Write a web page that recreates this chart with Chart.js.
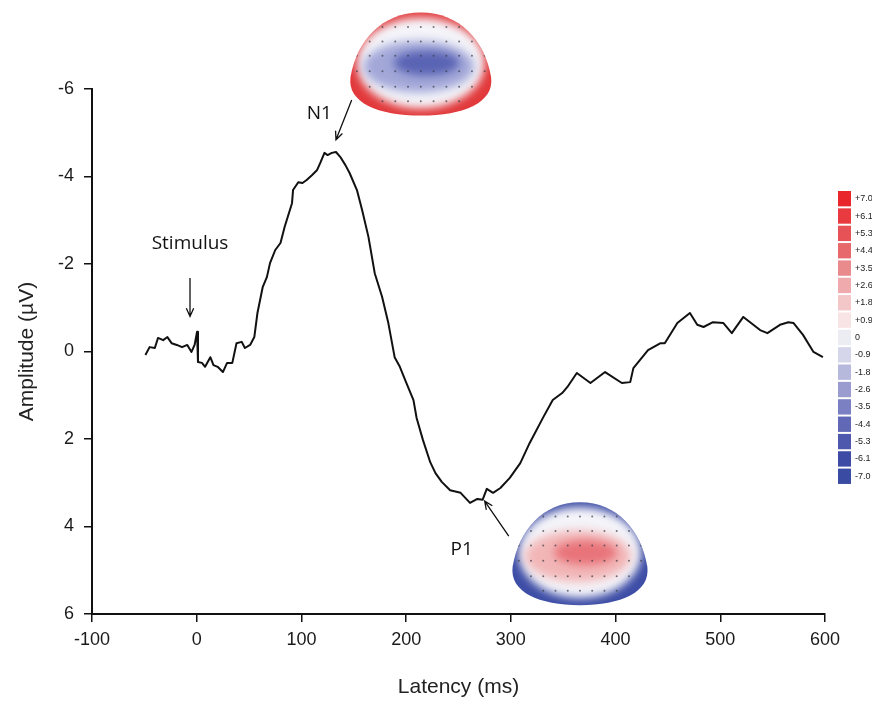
<!DOCTYPE html>
<html>
<head>
<meta charset="utf-8">
<script src="https://cdn.jsdelivr.net/npm/chart.js@4.4.1/dist/chart.umd.min.js"></script>
<style>
  html, body { margin: 0; padding: 0; background: #fff; }
  canvas { display: block; }
</style>
</head>
<body>
<canvas id="erp" width="872" height="702"></canvas>
<script>
// ─── Data ────────────────────────────────────────────
var latency = [
  -49, -45, -40, -37, -32, -28, -24, -19, -14, -9, -5, -2, 0.3, 1.2, 5, 8, 13, 16, 20, 25, 29, 34, 38, 43, 46, 51, 55,
  58, 63, 67, 70, 75, 80, 84, 91, 92, 97, 101, 105, 110, 115, 118, 122, 125, 129, 133, 137, 142, 146,
  153, 158, 164, 170, 177, 183, 189, 194, 199, 207, 210, 216, 223, 228, 234, 242, 252, 261, 268, 273,
  277, 283, 290, 299, 309, 318, 331, 340, 349, 354, 363, 376, 390, 406, 414, 417, 431, 443, 447,
  459, 471, 478, 484, 493, 503, 511, 522, 538, 545, 557, 565, 570, 579, 589, 598
];
var amplitude = [
  0.08, -0.10, -0.08, -0.31, -0.26, -0.33, -0.19, -0.15, -0.10, -0.15, 0.01, -0.15, -0.45, 0.24, 0.26, 0.35, 0.13, 0.31, 0.35, 0.47, 0.26, 0.26, -0.19, -0.22, -0.08, -0.15, -0.33,
  -0.88, -1.47, -1.70, -2.02, -2.32, -2.48, -2.85, -3.39, -3.69, -3.87, -3.85, -3.92, -4.03, -4.15, -4.31, -4.54, -4.49, -4.54, -4.56, -4.45, -4.26, -4.08,
  -3.69, -3.23, -2.62, -1.79, -1.25, -0.65, 0.13, 0.35, 0.65, 1.11, 1.52, 2.02, 2.53, 2.78, 2.98, 3.17, 3.23, 3.46, 3.37, 3.39,
  3.14, 3.23, 3.12, 2.89, 2.55, 2.09, 1.50, 1.11, 0.95, 0.81, 0.49, 0.72, 0.47, 0.72, 0.70, 0.38, -0.03, -0.19, -0.19,
  -0.65, -0.88, -0.61, -0.56, -0.67, -0.65, -0.42, -0.79, -0.49, -0.42, -0.61, -0.67, -0.65, -0.38, 0.01, 0.13
];
var xTicks = [-100, 0, 100, 200, 300, 400, 500, 600];
var yTicks = [-6, -4, -2, 0, 2, 4, 6];

// colour scale of the scalp maps
var mapLabels = ['+7.0', '+6.1', '+5.3', '+4.4', '+3.5', '+2.6', '+1.8', '+0.9', '0',
                 '-0.9', '-1.8', '-2.6', '-3.5', '-4.4', '-5.3', '-6.1', '-7.0'];
var mapColors = ['#e8262b', '#e93b3f', '#e75256', '#e7696c', '#e98a8d', '#eeaaac', '#f3c6c7', '#f9e4e5', '#ececf3',
                 '#d5d6ea', '#b6b8dc', '#9a9ccf', '#7b80c2', '#6168b6', '#4e58ad', '#3e4ca6', '#3a4ba3'];

// annotations, in (ms, µV)
var notes = [
  { text: 'Stimulus', x: -6.4, y: -2.46 },
  { text: 'N1', x: 117, y: -5.43 },
  { text: 'P1', x: 253, y: 4.52 }
];
var arrows = [
  { from: [-6.4, -1.68], to: [-6.4, -0.80] },
  { from: [148, -5.75], to: [133, -4.84] },
  { from: [298, 4.22], to: [275, 3.42] }
];

var points = latency.map(function(t, i) { return { x: t, y: amplitude[i] }; });

// ─── Drawing helpers ─────────────────────────────────
function headPath(ctx, cx, cy, w, h) {
  var a = w / 2, b = h / 2;
  ctx.beginPath();
  ctx.moveTo(cx, cy - b);
  ctx.bezierCurveTo(cx + 0.55 * a, cy - b, cx + 0.9 * a, cy - 0.45 * b, cx + 0.99 * a, cy + 0.25 * b);
  ctx.bezierCurveTo(cx + 1.04 * a, cy + 0.75 * b, cx + 0.6 * a, cy + b, cx, cy + b);
  ctx.bezierCurveTo(cx - 0.6 * a, cy + b, cx - 1.04 * a, cy + 0.75 * b, cx - 0.99 * a, cy + 0.25 * b);
  ctx.bezierCurveTo(cx - 0.9 * a, cy - 0.45 * b, cx - 0.55 * a, cy - b, cx, cy - b);
  ctx.closePath();
}

function blob(ctx, x, y, rx, ry, color) {
  ctx.fillStyle = color;
  ctx.beginPath();
  ctx.ellipse(x, y, rx, ry, 0, 0, Math.PI * 2);
  ctx.fill();
}

function drawHead(ctx, cx, cy, w, h, rim, mid, core) {
  var a = w / 2, b = h / 2;
  ctx.save();
  headPath(ctx, cx, cy, w, h);
  ctx.clip();
  ctx.fillStyle = rim;
  ctx.fillRect(cx - a - 5, cy - b - 5, w + 10, h + 10);
  ctx.filter = 'blur(4px)';
  blob(ctx, cx, cy - 0.02 * b, 0.9 * a, 0.88 * b, '#f4f4f9');
  ctx.filter = 'blur(5px)';
  blob(ctx, cx - 0.03 * a, cy + 0.05 * b, 0.78 * a, 0.5 * b, mid);
  ctx.filter = 'blur(4px)';
  blob(ctx, cx + 0.08 * a, cy - 0.02 * b, 0.46 * a, 0.24 * b, core);
  ctx.filter = 'none';
  // electrode dots
  ctx.fillStyle = 'rgba(60,60,70,0.7)';
  [-0.72, -0.44, -0.16, 0.14, 0.44, 0.72].forEach(function(ry) {
    for (var rx = -0.9; rx <= 0.91; rx += 0.18) {
      if (rx * rx / 0.88 + ry * ry / 0.85 < 1) {
        ctx.beginPath();
        ctx.arc(cx + rx * a, cy + ry * b, 1, 0, Math.PI * 2);
        ctx.fill();
      }
    }
  });
  ctx.restore();
}

function drawArrow(ctx, x1, y1, x2, y2) {
  var ang = Math.atan2(y2 - y1, x2 - x1), L = 9, s = 0.42;
  ctx.beginPath();
  ctx.moveTo(x1, y1);
  ctx.lineTo(x2, y2);
  ctx.moveTo(x2 - L * Math.cos(ang - s), y2 - L * Math.sin(ang - s));
  ctx.lineTo(x2, y2);
  ctx.lineTo(x2 - L * Math.cos(ang + s), y2 - L * Math.sin(ang + s));
  ctx.stroke();
}

var overlay = {
  id: 'overlay',
  afterDraw: function(chart) {
    var ctx = chart.ctx, xs = chart.scales.x, ys = chart.scales.y;
    var px = function(v) { return xs.getPixelForValue(v); };
    var py = function(v) { return ys.getPixelForValue(v); };

    // scalp maps
    drawHead(ctx, px(214), py(-6.57), 142, 103, '#e23a3c', '#a2a7d8', '#5a64b4');
    drawHead(ctx, px(366), py(4.62), 136, 103, '#3e4ea6', '#f2b6b7', '#e8747a');

    // labels + arrows
    ctx.save();
    ctx.fillStyle = '#111';
    ctx.font = '19px "Open Sans", Lato, sans-serif';
    ctx.textAlign = 'center';
    ctx.textBaseline = 'middle';
    notes.forEach(function(n) { ctx.fillText(n.text, px(n.x), py(n.y)); });
    ctx.strokeStyle = '#111';
    ctx.lineWidth = 1.3;
    arrows.forEach(function(a) { drawArrow(ctx, px(a.from[0]), py(a.from[1]), px(a.to[0]), py(a.to[1])); });

    // colour bar
    var left = chart.chartArea.right + 13, top = 190, step = 17.35;
    ctx.font = '9px "Liberation Sans", Arial, sans-serif';
    ctx.textAlign = 'left';
    mapLabels.forEach(function(lab, i) {
      ctx.fillStyle = mapColors[i];
      ctx.fillRect(left, top + i * step + 1, 13, step - 2);
      ctx.fillStyle = '#222';
      ctx.fillText(lab, left + 17, top + i * step + step / 2);
    });
    ctx.restore();
  }
};

// ─── Chart ───────────────────────────────────────────
var axisFont = { family: '"Liberation Sans", Arial, sans-serif', size: 18 };
var titleFont = { family: '"Liberation Sans", Arial, sans-serif', size: 21, lineHeight: 1.2 };

new Chart(document.getElementById('erp').getContext('2d'), {
  type: 'line',
  data: {
    datasets: [{
      data: points,
      borderColor: '#111', borderWidth: 2, borderJoinStyle: 'round',
      pointRadius: 0, tension: 0, fill: false
    }]
  },
  options: {
    responsive: false, animation: false, devicePixelRatio: 1,
    layout: { padding: { top: 89, right: 47, left: 0, bottom: 0 } },
    plugins: { legend: { display: false }, tooltip: { enabled: false } },
    scales: {
      x: {
        type: 'linear', min: -100, max: 600,
        afterBuildTicks: function(s) { s.ticks = xTicks.map(function(v) { return { value: v }; }); },
        afterFit: function(s) { s.height = 88; },
        grid: { drawOnChartArea: false, drawTicks: true, tickLength: 8, color: '#111', lineWidth: 1.5 },
        border: { display: true, color: '#111', width: 2 },
        ticks: { color: '#1a1a1a', font: axisFont, padding: 7, maxRotation: 0 },
        title: { display: true, text: 'Latency (ms)', color: '#222', font: titleFont, padding: { top: 0, bottom: 2 } }
      },
      y: {
        type: 'linear', min: -6, max: 6, reverse: true,
        afterBuildTicks: function(s) { s.ticks = yTicks.map(function(v) { return { value: v }; }); },
        afterFit: function(s) { s.width = 92; },
        grid: { drawOnChartArea: false, drawTicks: true, tickLength: 8, color: '#111', lineWidth: 1.5 },
        border: { display: true, color: '#111', width: 2 },
        ticks: { color: '#1a1a1a', font: axisFont, padding: 10 },
        title: { display: true, text: 'Amplitude (µV)', color: '#222', font: titleFont, padding: { top: 15, bottom: 0 } }
      }
    }
  },
  plugins: [overlay]
});
</script>
</body>
</html>
